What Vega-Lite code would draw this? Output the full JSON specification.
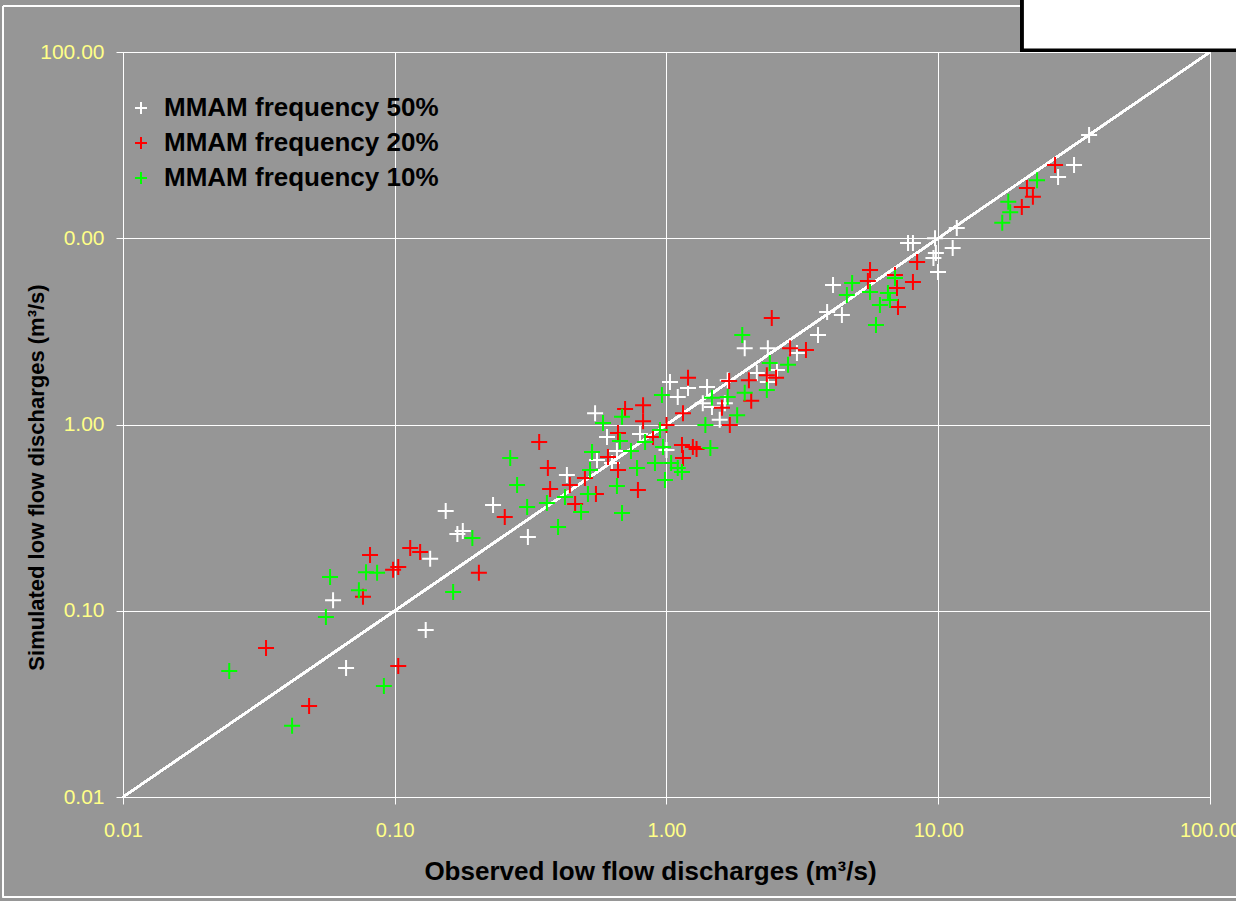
{
  "$schema": "https://vega.github.io/schema/vega-lite/v6.json",
  "width": 1087,
  "height": 745,
  "autosize": {"type": "none"},
  "padding": {"left": 123, "top": 52, "right": 26, "bottom": 104},
  "background": "#969696",
  "config": {
    "view": {"stroke": "white", "strokeWidth": 1, "fill": "#969696"},
    "font": "Liberation Sans",
    "axis": {
      "grid": true, "gridColor": "white", "gridOpacity": 1, "gridWidth": 1,
      "domainColor": "white", "tickColor": "white", "tickSize": 7, "tickWidth": 1,
      "labelColor": "#ffff88", "labelFont": "Liberation Sans",
      "labelFlush": false, "labelOverlap": false,
      "titleFont": "Liberation Sans", "titleFontWeight": "bold", "titleColor": "black"
    }
  },
  "datasets": {
    "pts": [
      {"series":"MMAM frequency 50%","obs":35.9,"sim":35.8},{"series":"MMAM frequency 50%","obs":31.6,"sim":24.7},{"series":"MMAM frequency 50%","obs":27.6,"sim":21.3},{"series":"MMAM frequency 50%","obs":11.7,"sim":11.35},{"series":"MMAM frequency 50%","obs":11.3,"sim":8.87},{"series":"MMAM frequency 50%","obs":9.73,"sim":10.0},{"series":"MMAM frequency 50%","obs":9.8,"sim":8.33},{"series":"MMAM frequency 50%","obs":9.6,"sim":7.83},{"series":"MMAM frequency 50%","obs":9.98,"sim":6.59},{"series":"MMAM frequency 50%","obs":7.74,"sim":9.43},{"series":"MMAM frequency 50%","obs":8.07,"sim":9.43},{"series":"MMAM frequency 50%","obs":4.10,"sim":5.61},{"series":"MMAM frequency 50%","obs":3.90,"sim":4.02},{"series":"MMAM frequency 50%","obs":4.42,"sim":3.87},{"series":"MMAM frequency 50%","obs":3.61,"sim":3.02},{"series":"MMAM frequency 50%","obs":1.94,"sim":2.57},{"series":"MMAM frequency 50%","obs":2.36,"sim":2.57},{"series":"MMAM frequency 50%","obs":3.02,"sim":2.42},{"series":"MMAM frequency 50%","obs":2.55,"sim":1.96},{"series":"MMAM frequency 50%","obs":2.15,"sim":1.89},{"series":"MMAM frequency 50%","obs":2.36,"sim":1.69},{"series":"MMAM frequency 50%","obs":1.68,"sim":1.73},{"series":"MMAM frequency 50%","obs":1.64,"sim":1.30},{"series":"MMAM frequency 50%","obs":1.03,"sim":1.69},{"series":"MMAM frequency 50%","obs":1.20,"sim":1.57},{"series":"MMAM frequency 50%","obs":1.10,"sim":1.405},{"series":"MMAM frequency 50%","obs":1.41,"sim":1.59},{"series":"MMAM frequency 50%","obs":1.36,"sim":1.30},{"series":"MMAM frequency 50%","obs":1.47,"sim":1.24},{"series":"MMAM frequency 50%","obs":1.57,"sim":1.06},{"series":"MMAM frequency 50%","obs":0.799,"sim":0.889},{"series":"MMAM frequency 50%","obs":1.00,"sim":0.730},{"series":"MMAM frequency 50%","obs":0.546,"sim":1.15},{"series":"MMAM frequency 50%","obs":0.604,"sim":0.857},{"series":"MMAM frequency 50%","obs":0.657,"sim":0.721},{"series":"MMAM frequency 50%","obs":0.555,"sim":0.645},{"series":"MMAM frequency 50%","obs":0.630,"sim":0.621},{"series":"MMAM frequency 50%","obs":0.430,"sim":0.536},{"series":"MMAM frequency 50%","obs":0.230,"sim":0.370},{"series":"MMAM frequency 50%","obs":0.154,"sim":0.343},{"series":"MMAM frequency 50%","obs":0.170,"sim":0.258},{"series":"MMAM frequency 50%","obs":0.178,"sim":0.268},{"series":"MMAM frequency 50%","obs":0.135,"sim":0.190},{"series":"MMAM frequency 50%","obs":0.309,"sim":0.249},{"series":"MMAM frequency 50%","obs":0.0593,"sim":0.114},{"series":"MMAM frequency 50%","obs":0.0662,"sim":0.0493},{"series":"MMAM frequency 50%","obs":0.130,"sim":0.0788},
      {"series":"MMAM frequency 20%","obs":26.9,"sim":24.7},{"series":"MMAM frequency 20%","obs":21.2,"sim":18.6},{"series":"MMAM frequency 20%","obs":22.3,"sim":16.7},{"series":"MMAM frequency 20%","obs":20.3,"sim":14.7},{"series":"MMAM frequency 20%","obs":8.36,"sim":7.46},{"series":"MMAM frequency 20%","obs":8.07,"sim":5.82},{"series":"MMAM frequency 20%","obs":6.93,"sim":6.35},{"series":"MMAM frequency 20%","obs":7.05,"sim":5.41},{"series":"MMAM frequency 20%","obs":7.11,"sim":4.27},{"series":"MMAM frequency 20%","obs":5.61,"sim":6.75},{"series":"MMAM frequency 20%","obs":5.51,"sim":5.89},{"series":"MMAM frequency 20%","obs":2.44,"sim":3.73},{"series":"MMAM frequency 20%","obs":2.85,"sim":2.57},{"series":"MMAM frequency 20%","obs":3.26,"sim":2.51},{"series":"MMAM frequency 20%","obs":2.34,"sim":1.84},{"series":"MMAM frequency 20%","obs":2.53,"sim":1.78},{"series":"MMAM frequency 20%","obs":2.01,"sim":1.73},{"series":"MMAM frequency 20%","obs":1.70,"sim":1.71},{"series":"MMAM frequency 20%","obs":2.05,"sim":1.34},{"series":"MMAM frequency 20%","obs":1.60,"sim":1.23},{"series":"MMAM frequency 20%","obs":1.71,"sim":0.994},{"series":"MMAM frequency 20%","obs":1.20,"sim":1.78},{"series":"MMAM frequency 20%","obs":1.15,"sim":1.15},{"series":"MMAM frequency 20%","obs":1.00,"sim":0.994},{"series":"MMAM frequency 20%","obs":0.820,"sim":1.27},{"series":"MMAM frequency 20%","obs":0.820,"sim":1.04},{"series":"MMAM frequency 20%","obs":0.704,"sim":1.21},{"series":"MMAM frequency 20%","obs":0.663,"sim":0.900},{"series":"MMAM frequency 20%","obs":0.892,"sim":0.857},{"series":"MMAM frequency 20%","obs":1.14,"sim":0.776},{"series":"MMAM frequency 20%","obs":1.25,"sim":0.757},{"series":"MMAM frequency 20%","obs":1.29,"sim":0.739},{"series":"MMAM frequency 20%","obs":1.15,"sim":0.661},{"series":"MMAM frequency 20%","obs":0.609,"sim":0.669},{"series":"MMAM frequency 20%","obs":0.663,"sim":0.570},{"series":"MMAM frequency 20%","obs":0.779,"sim":0.584},{"series":"MMAM frequency 20%","obs":0.785,"sim":0.445},{"series":"MMAM frequency 20%","obs":0.501,"sim":0.516},{"series":"MMAM frequency 20%","obs":0.366,"sim":0.584},{"series":"MMAM frequency 20%","obs":0.340,"sim":0.805},{"series":"MMAM frequency 20%","obs":0.373,"sim":0.451},{"series":"MMAM frequency 20%","obs":0.441,"sim":0.473},{"series":"MMAM frequency 20%","obs":0.550,"sim":0.423},{"series":"MMAM frequency 20%","obs":0.461,"sim":0.374},{"series":"MMAM frequency 20%","obs":0.254,"sim":0.319},{"series":"MMAM frequency 20%","obs":0.114,"sim":0.217},{"series":"MMAM frequency 20%","obs":0.124,"sim":0.207},{"series":"MMAM frequency 20%","obs":0.0811,"sim":0.199},{"series":"MMAM frequency 20%","obs":0.0986,"sim":0.166},{"series":"MMAM frequency 20%","obs":0.103,"sim":0.172},{"series":"MMAM frequency 20%","obs":0.0764,"sim":0.119},{"series":"MMAM frequency 20%","obs":0.0336,"sim":0.0631},{"series":"MMAM frequency 20%","obs":0.0484,"sim":0.0308},{"series":"MMAM frequency 20%","obs":0.103,"sim":0.0505},{"series":"MMAM frequency 20%","obs":0.204,"sim":0.160},
      {"series":"MMAM frequency 10%","obs":23.1,"sim":20.5},{"series":"MMAM frequency 10%","obs":18.1,"sim":15.7},{"series":"MMAM frequency 10%","obs":18.4,"sim":13.8},{"series":"MMAM frequency 10%","obs":17.2,"sim":12.1},{"series":"MMAM frequency 10%","obs":6.93,"sim":6.12},{"series":"MMAM frequency 10%","obs":6.53,"sim":5.08},{"series":"MMAM frequency 10%","obs":6.64,"sim":4.66},{"series":"MMAM frequency 10%","obs":6.10,"sim":4.38},{"series":"MMAM frequency 10%","obs":5.90,"sim":3.42},{"series":"MMAM frequency 10%","obs":4.82,"sim":5.75},{"series":"MMAM frequency 10%","obs":4.61,"sim":4.96},{"series":"MMAM frequency 10%","obs":5.61,"sim":5.14},{"series":"MMAM frequency 10%","obs":1.90,"sim":3.02},{"series":"MMAM frequency 10%","obs":2.40,"sim":2.14},{"series":"MMAM frequency 10%","obs":2.80,"sim":2.09},{"series":"MMAM frequency 10%","obs":2.34,"sim":1.53},{"series":"MMAM frequency 10%","obs":1.94,"sim":1.48},{"series":"MMAM frequency 10%","obs":1.68,"sim":1.405},{"series":"MMAM frequency 10%","obs":1.47,"sim":1.39},{"series":"MMAM frequency 10%","obs":1.82,"sim":1.12},{"series":"MMAM frequency 10%","obs":1.39,"sim":0.994},{"series":"MMAM frequency 10%","obs":1.45,"sim":0.748},{"series":"MMAM frequency 10%","obs":0.962,"sim":1.44},{"series":"MMAM frequency 10%","obs":0.946,"sim":0.934},{"series":"MMAM frequency 10%","obs":0.834,"sim":0.805},{"series":"MMAM frequency 10%","obs":0.971,"sim":0.757},{"series":"MMAM frequency 10%","obs":0.907,"sim":0.621},{"series":"MMAM frequency 10%","obs":1.04,"sim":0.621},{"series":"MMAM frequency 10%","obs":1.10,"sim":0.584},{"series":"MMAM frequency 10%","obs":1.14,"sim":0.556},{"series":"MMAM frequency 10%","obs":0.987,"sim":0.504},{"series":"MMAM frequency 10%","obs":0.584,"sim":1.02},{"series":"MMAM frequency 10%","obs":0.686,"sim":1.10},{"series":"MMAM frequency 10%","obs":0.674,"sim":0.815},{"series":"MMAM frequency 10%","obs":0.532,"sim":0.712},{"series":"MMAM frequency 10%","obs":0.740,"sim":0.721},{"series":"MMAM frequency 10%","obs":0.779,"sim":0.584},{"series":"MMAM frequency 10%","obs":0.523,"sim":0.570},{"series":"MMAM frequency 10%","obs":0.657,"sim":0.468},{"series":"MMAM frequency 10%","obs":0.686,"sim":0.335},{"series":"MMAM frequency 10%","obs":0.514,"sim":0.423},{"series":"MMAM frequency 10%","obs":0.423,"sim":0.408},{"series":"MMAM frequency 10%","obs":0.363,"sim":0.379},{"series":"MMAM frequency 10%","obs":0.307,"sim":0.361},{"series":"MMAM frequency 10%","obs":0.485,"sim":0.339},{"series":"MMAM frequency 10%","obs":0.282,"sim":0.473},{"series":"MMAM frequency 10%","obs":0.266,"sim":0.661},{"series":"MMAM frequency 10%","obs":0.399,"sim":0.282},{"series":"MMAM frequency 10%","obs":0.193,"sim":0.246},{"series":"MMAM frequency 10%","obs":0.164,"sim":0.126},{"series":"MMAM frequency 10%","obs":0.0578,"sim":0.152},{"series":"MMAM frequency 10%","obs":0.0784,"sim":0.161},{"series":"MMAM frequency 10%","obs":0.0861,"sim":0.160},{"series":"MMAM frequency 10%","obs":0.0738,"sim":0.129},{"series":"MMAM frequency 10%","obs":0.0558,"sim":0.0926},{"series":"MMAM frequency 10%","obs":0.0246,"sim":0.0475},{"series":"MMAM frequency 10%","obs":0.0419,"sim":0.0241},{"series":"MMAM frequency 10%","obs":0.0912,"sim":0.0394}
    ]
  },
  "data": {"name": "pts"},
  "encoding": {
    "x": {
      "field": "obs", "type": "quantitative",
      "scale": {"type": "log", "domain": [0.01, 100], "nice": false},
      "axis": {
        "values": [0.01, 0.1, 1, 10, 100],
        "format": ".2f", "labelFontSize": 20, "labelPadding": 16,
        "title": "Observed low flow discharges (m³/s)", "titleFontSize": 26,
        "titleX": 527, "titleY": 74, "titleBaseline": "middle", "titleAlign": "center"
      }
    },
    "y": {
      "field": "sim", "type": "quantitative",
      "scale": {"type": "log", "domain": [0.01, 100], "nice": false},
      "axis": {
        "values": [0.01, 0.1, 1, 10, 100],
        "labelExpr": "datum.value == 10 ? '0.00' : format(datum.value, '.2f')",
        "labelFontSize": 21, "labelPadding": 12,
        "title": "Simulated low flow discharges (m³/s)", "titleFontSize": 22,
        "titleX": -87, "titleY": 425, "titleBaseline": "middle", "titleAlign": "center", "titleAngle": -90
      }
    }
  },
  "layer": [
    {
      "mark": {"type": "rect", "fill": null, "fillOpacity": 0, "stroke": "white", "strokeWidth": 1, "clip": false},
      "encoding": {
        "x": {"datum": 0.00362, "type": "quantitative"},
        "x2": {"datum": 150},
        "y": {"datum": 0.0029, "type": "quantitative"},
        "y2": {"datum": 176.6}
      }
    },
    {
      "mark": {"type": "rule", "color": "white", "strokeWidth": 2},
      "encoding": {
        "x": {"datum": 0.01, "type": "quantitative"},
        "x2": {"datum": 100},
        "y": {"datum": 0.01, "type": "quantitative"},
        "y2": {"datum": 100}
      }
    },
    {
      "mark": {"type": "point", "shape": "M-1,0L1,0M0,-1L0,1", "filled": false, "size": 256, "strokeWidth": 2, "opacity": 1},
      "encoding": {
        "color": {
          "field": "series", "type": "nominal",
          "scale": {"domain": ["MMAM frequency 50%", "MMAM frequency 20%", "MMAM frequency 10%"], "range": ["#ffffff", "#ff0000", "#00ff00"]},
          "legend": {
            "orient": "none", "legendX": 5, "legendY": 43, "title": null, "padding": 0,
            "labelFont": "Liberation Sans", "labelFontSize": 26, "labelFontWeight": "bold", "labelColor": "black",
            "symbolType": "M-1,0L1,0M0,-1L0,1", "symbolSize": 144, "symbolStrokeWidth": 2, "symbolOpacity": 1,
            "rowPadding": 9, "labelOffset": 10, "labelLimit": 400
          }
        }
      }
    },
    {
      "mark": {"type": "rect", "fill": "white", "stroke": "black", "strokeWidth": 3, "clip": false},
      "encoding": {
        "x": {"datum": 20.4, "type": "quantitative"},
        "x2": {"datum": 300},
        "y": {"datum": 102.5, "type": "quantitative"},
        "y2": {"datum": 400}
      }
    }
  ]
}
